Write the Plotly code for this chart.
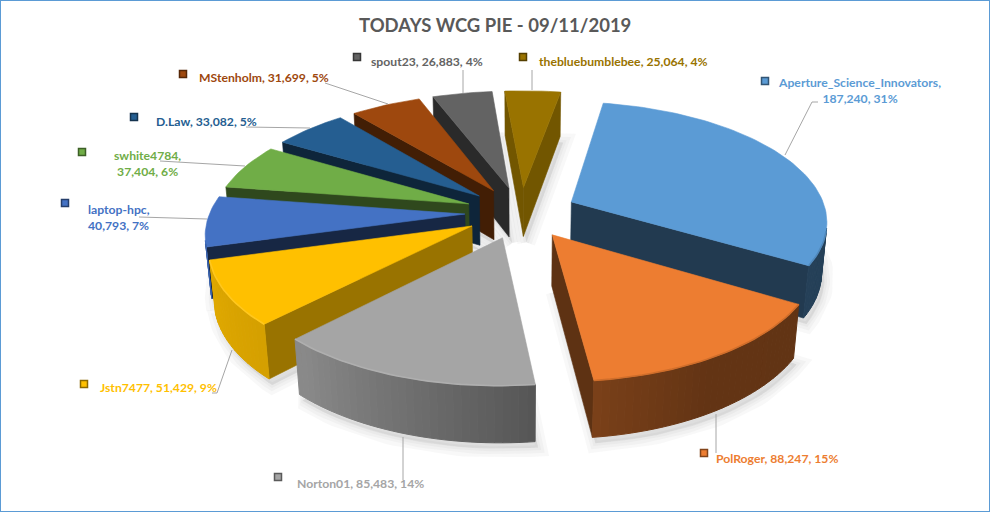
import numpy as np
import plotly.graph_objects as go

# ---------- data ----------
names = ["Aperture_Science_Innovators", "PolRoger", "Norton01", "Jstn7477", "laptop-hpc",
         "swhite4784", "D.Law", "MStenholm", "spout23", "thebluebumblebee"]
values = [187240, 88247, 85483, 51429, 40793, 37404, 33082, 31699, 26883, 25064]
percents = [31, 15, 14, 9, 7, 6, 5, 5, 4, 4]
colors = ["#5B9BD5", "#ED7D31", "#A5A5A5", "#FFC000", "#4472C4",
          "#70AD47", "#255E91", "#9E480E", "#636363", "#997300"]
title = "TODAYS WCG PIE - 09/11/2019"

# ---------- view settings ----------
START = 10.0; EXPLODE = 0.22; HEIGHT = 0.225
EL = np.radians(27.5); DIST = 6.0; F = 255.0; CX = 521.0; CY = 212.5

def project(X, Y, Z):
    X, Y, Z = np.asarray(X, float), np.asarray(Y, float), np.asarray(Z, float)
    v = Y*np.sin(EL) + Z*np.cos(EL)
    w = DIST + Y*np.cos(EL) - Z*np.sin(EL)
    s = DIST/w
    return CX + F*X*s, CY - F*v*s

EYE = np.array([0, -DIST*np.cos(EL), DIST*np.sin(EL)])

def mix(c, k):
    r, g, b = int(c[1:3], 16), int(c[3:5], 16), int(c[5:7], 16)
    if k <= 1:
        r, g, b = r*k, g*k, b*k
    else:
        t = k-1
        r, g, b = r+(255-r)*t, g+(255-g)*t, b+(255-b)*t
    return f"rgb({int(r)},{int(g)},{int(b)})"

def poly(x, y, color, opacity=1.0, lw=0.6):
    return go.Scatter(x=list(x)+[x[0]], y=list(y)+[y[0]], mode="lines", fill="toself",
                      fillcolor=color, opacity=opacity, hoverinfo="skip", showlegend=False,
                      line=dict(color=color, width=lw))

total = sum(values)
edges = START + np.concatenate([[0], np.cumsum(values)])/total*360
slices = []
for i in range(len(values)):
    a0, a1 = edges[i], edges[i+1]
    mid = np.radians((a0+a1)/2)
    ax, ay = EXPLODE*np.sin(mid), EXPLODE*np.cos(mid)
    n = max(3, int((a1-a0)/1.5))
    ang = np.radians(np.linspace(a0, a1, n+1))
    slices.append(dict(i=i, a0=np.radians(a0), a1=np.radians(a1), ax=ax, ay=ay, ang=ang,
                       ox=ax+np.sin(ang), oy=ay+np.cos(ang)))

fig = go.Figure()

# soft shadows under the slices
for s in slices:
    bx, by = project(np.r_[s["ax"], s["ox"]], np.r_[s["ay"], s["oy"]], np.full(len(s["ox"])+1, -HEIGHT))
    for lw in (18, 11, 5):
        fig.add_trace(go.Scatter(x=list(bx+3)+[bx[0]+3], y=list(by+6)+[by[0]+6], mode="lines", fill="toself",
                                 fillcolor="rgba(120,120,120,0.05)", hoverinfo="skip", showlegend=False,
                                 line=dict(color="rgba(120,120,120,0.05)", width=lw)))

def side_factor(a):
    return np.interp(np.degrees(a) % 360, [0, 150, 170, 221, 252, 360], [0.4, 0.42, 0.5, 0.83, 0.88, 0.6])

wall_k = [0.38, 0.40, 0.45, 0.60, 0.35, 0.42, 0.40, 0.42, 0.43, 0.75]
for s in sorted(slices, key=lambda q: -q["ay"]):
    c = colors[s["i"]]
    ax, ay = s["ax"], s["ay"]
    # radial walls
    for a, nrm, k in ((s["a0"], (-np.cos(s["a0"]), np.sin(s["a0"])), 1.0),
                      (s["a1"], (np.cos(s["a1"]), -np.sin(s["a1"])), 1.0)):
        P = np.array([ax, ay, 0])
        if (EYE-P)[:2] @ np.array(nrm) > 0:
            ex, ey = ax+np.sin(a), ay+np.cos(a)
            x, y = project([ax, ex, ex, ax], [ay, ey, ey, ay], [0, 0, -HEIGHT, -HEIGHT])
            fig.add_trace(poly(x, y, mix(c, wall_k[s["i"]]*k)))
    # outer rim bands
    ang, ox, oy = s["ang"], s["ox"], s["oy"]
    for j in range(len(ang)-1):
        am = (ang[j]+ang[j+1])/2
        P = np.array([(ox[j]+ox[j+1])/2, (oy[j]+oy[j+1])/2, 0])
        if (EYE-P)[:2] @ np.array([np.sin(am), np.cos(am)]) > 0:
            x, y = project([ox[j], ox[j+1], ox[j+1], ox[j]], [oy[j], oy[j+1], oy[j+1], oy[j]],
                           [0, 0, -HEIGHT, -HEIGHT])
            fig.add_trace(poly(x, y, mix(c, float(side_factor(am))), lw=1.0))
    # top face
    x, y = project(np.r_[ax, ox], np.r_[ay, oy], np.zeros(len(ox)+1))
    fig.add_trace(poly(x, y, c))
    # rim highlight along front part of the arc
    vis = [(EYE-np.array([ox[j], oy[j], 0]))[:2] @ np.array([np.sin(ang[j]), np.cos(ang[j])]) > 0
           for j in range(len(ang))]
    idx = np.where(vis)[0]
    if len(idx) > 1:
        rx, ry = project(ox[idx], oy[idx], np.zeros(len(idx)))
        fig.add_trace(go.Scatter(x=rx, y=ry, mode="lines", hoverinfo="skip", showlegend=False,
                                 line=dict(color=mix(c, 0.88 if s["i"] in (0, 1, 4) else 1.12), width=1.6)))

# ---------- label placement ----------
label_lines = [
    ["Aperture_Science_Innovators,", "187,240, 31%"], ["PolRoger, 88,247, 15%"], ["Norton01, 85,483, 14%"],
    ["Jstn7477, 51,429, 9%"], ["laptop-hpc,", "40,793, 7%"], ["swhite4784,", "37,404, 6%"],
    ["D.Law, 33,082, 5%"], ["MStenholm, 31,699, 5%"], ["spout23, 26,883, 4%"], ["thebluebumblebee, 25,064, 4%"]]
label_pos = [(859, 90), (777, 458), (360, 483), (158, 387), (86, 217), (147, 163), (206, 121), (264, 77), (427, 61), (623, 61)]
label_anchor = ["center"]*4 + ["left"] + ["center"]*5
label_colors = ["#5B9BD5", "#ED7D31", "#A5A5A5", "#FFC000", "#4472C4", "#70AD47", "#255E91", "#9E480E", "#636363", "#997300"]
key_x = [765, 704, 278, 84, 65, 82, 134, 183, 357, 523]
key_y = [81, 453, 477, 384, 203, 152, 117, 74, 57, 57]
leaders = [[(818, 102), (812, 102), (785, 155)], [(716, 453), (716, 414)], [(403, 480), (403, 437)],
           [(212, 393), (217, 393), (232, 350)], [(139, 217), (207, 219)], [(160, 161), (245, 166)],
           [(246, 127), (310, 128)], [(325, 83), (388, 104)], [(463, 70), (463, 93)], [(532, 70), (532, 90)]]

for pts in leaders:
    fig.add_trace(go.Scatter(x=[p[0] for p in pts], y=[p[1] for p in pts], mode="lines", hoverinfo="skip",
                             showlegend=False, line=dict(color="#A6A6A6", width=1)))

fig.add_trace(go.Scatter(x=key_x, y=key_y, mode="markers", hoverinfo="skip", showlegend=False,
                         marker=dict(symbol="square", size=7, color=colors,
                                     line=dict(color=[mix(c, 0.55) for c in colors], width=1.5))))

ann = [dict(x=495, y=25, xref="x", yref="y", text=f"<b>{title}</b>", showarrow=False,
            font=dict(family="Lato", size=18.5, color="#595959"), xanchor="center", yanchor="middle")]
for ln, (px, py), anc, col in zip(label_lines, label_pos, label_anchor, label_colors):
    ann.append(dict(x=px, y=py, xref="x", yref="y", text="<b>"+"<br>".join(ln)+"</b>", showarrow=False, align=anc,
                    xanchor=anc, yanchor="middle", font=dict(family="Lato", size=12.2, color=col)))

fig.update_layout(
    width=990, height=512, margin=dict(l=0, r=0, t=0, b=0), paper_bgcolor="white", plot_bgcolor="white",
    showlegend=False, annotations=ann,
    xaxis=dict(range=[0, 990], visible=False, fixedrange=True),
    yaxis=dict(range=[512, 0], visible=False, fixedrange=True),
    shapes=[dict(type="rect", xref="paper", yref="paper", x0=0, y0=0, x1=1, y1=1,
                 line=dict(color="#5B9BD5", width=2))],
)
fig.write_html("out.html", config={"displayModeBar": False},
               post_script="document.body.style.margin='0';document.documentElement.style.overflow='hidden';")
